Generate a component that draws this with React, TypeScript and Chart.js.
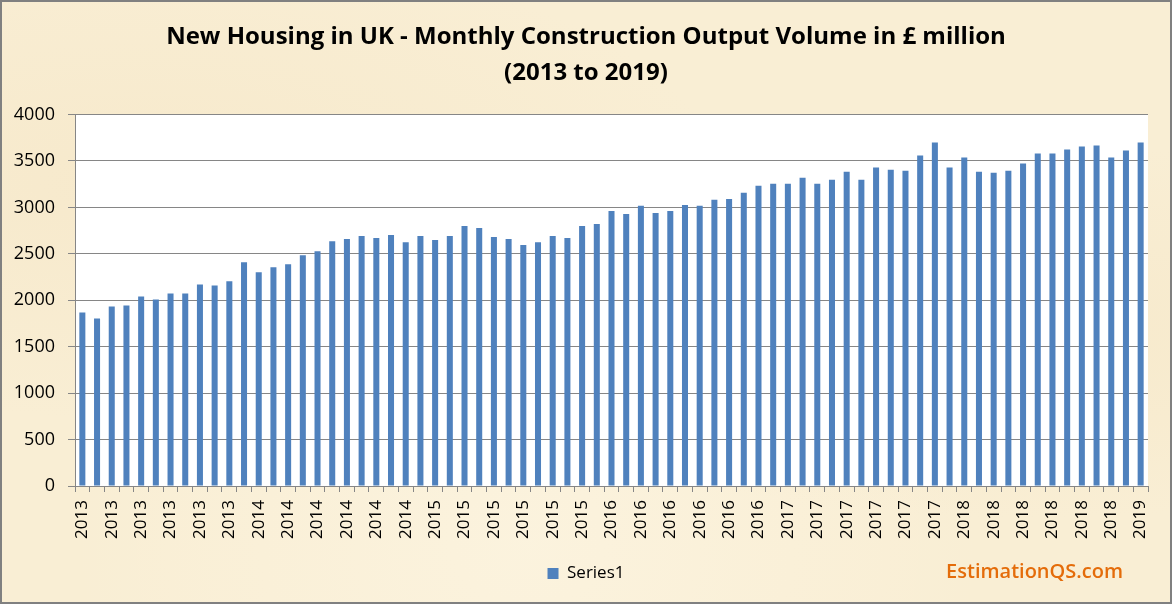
import React, { useEffect, useRef } from "react";
import { Chart, registerables } from "chart.js";

Chart.register(...registerables);

// monthly categories, Jan 2013 .. Jan 2019
const monthYears = [
  "2013", "2013", "2013", "2013", "2013", "2013", "2013", "2013", "2013", "2013", "2013", "2013",
  "2014", "2014", "2014", "2014", "2014", "2014", "2014", "2014", "2014", "2014", "2014", "2014",
  "2015", "2015", "2015", "2015", "2015", "2015", "2015", "2015", "2015", "2015", "2015", "2015",
  "2016", "2016", "2016", "2016", "2016", "2016", "2016", "2016", "2016", "2016", "2016", "2016",
  "2017", "2017", "2017", "2017", "2017", "2017", "2017", "2017", "2017", "2017", "2017", "2017",
  "2018", "2018", "2018", "2018", "2018", "2018", "2018", "2018", "2018", "2018", "2018", "2018",
  "2019",
];

// output volume, £ million
const outputVolume = [
  1868, 1803, 1933, 1944, 2041, 2009, 2074, 2074, 2171, 2160, 2204, 2410,
  2301, 2355, 2388, 2486, 2529, 2637, 2659, 2691, 2670, 2702, 2626, 2691,
  2648, 2691, 2800, 2778, 2681, 2659, 2594, 2626, 2691, 2670, 2800, 2821,
  2962, 2930, 3017, 2941, 2962, 3027, 3017, 3082, 3092, 3158, 3233, 3255,
  3255, 3320, 3255, 3298, 3385, 3298, 3429, 3407, 3396, 3559, 3699, 3429,
  3537, 3385, 3374, 3396, 3472, 3580, 3580, 3624, 3656, 3667, 3537, 3613,
  3699,
];

const yMin = 0;
const yMax = 4000;
const yStep = 500;

const titleLines = [
  "New Housing in UK - Monthly Construction Output Volume in £ million",
  "(2013 to 2019)",
];
const seriesName = "Series1";
const watermark = "EstimationQS.com";

const FONT = "'Open Sans', Lato, sans-serif";
const GRID = "#868686";

const plotBackground = {
  id: "plotBackground",
  beforeDraw(chart: Chart) {
    const { ctx, chartArea } = chart;
    ctx.save();
    ctx.fillStyle = "#ffffff";
    ctx.fillRect(chartArea.left, chartArea.top, chartArea.right - chartArea.left, chartArea.bottom - chartArea.top);
    ctx.restore();
  },
};

const siteMark = {
  id: "siteMark",
  afterDraw(chart: Chart) {
    const { ctx } = chart;
    ctx.save();
    ctx.font = `600 20px ${FONT}`;
    ctx.fillStyle = "#e46c0a";
    ctx.textAlign = "right";
    ctx.textBaseline = "middle";
    ctx.fillText(watermark, chart.width - 47, 570);
    ctx.restore();
  },
};

const HousingChart: React.FC = () => {
  const canvasRef = useRef<HTMLCanvasElement | null>(null);

  useEffect(() => {
    document.body.style.margin = "0";
    if (!canvasRef.current) return;
    const ctx = canvasRef.current.getContext("2d");
    if (!ctx) return;

    const chart = new Chart(ctx, {
      type: "bar",
      data: {
        labels: monthYears,
        datasets: [
          {
            label: seriesName,
            data: outputVolume,
            backgroundColor: "#4f81bd",
            borderWidth: 0,
            barPercentage: 0.41,
            categoryPercentage: 1,
          },
        ],
      },
      options: {
        responsive: false,
        animation: false,
        layout: { padding: { top: 0, right: 0, bottom: 10, left: 0 } },
        scales: {
          x: {
            grid: { drawOnChartArea: false, drawTicks: true, tickLength: 6, color: GRID, offset: true },
            border: { color: GRID },
            ticks: {
              autoSkip: false,
              minRotation: 90,
              maxRotation: 90,
              padding: 8,
              color: "#000",
              font: { family: FONT, size: 17 },
              callback: (_v, i) => (i % 2 === 0 ? monthYears[i] : ""),
            },
            afterFit: (scale) => {
              scale.height = 69;
            },
          },
          y: {
            min: yMin,
            max: yMax,
            ticks: {
              stepSize: yStep,
              padding: 13,
              color: "#000",
              font: { family: FONT, size: 18 },
              callback: (v) => String(v),
            },
            grid: { color: GRID, tickLength: 7 },
            border: { color: GRID },
            afterFit: (scale) => {
              scale.width = 73;
            },
          },
          // empty right-hand margin so title and legend stay centred on the whole frame
          yMargin: {
            position: "right",
            ticks: { display: false },
            grid: { display: false },
            border: { display: false },
            afterFit: (scale) => {
              scale.width = 22;
            },
          },
        },
        plugins: {
          title: {
            display: true,
            text: titleLines,
            color: "#000",
            font: { family: FONT, size: 24, weight: "bold", lineHeight: 1.47 },
            padding: { top: 18, bottom: 24 },
          },
          legend: {
            display: true,
            position: "bottom",
            labels: {
              boxWidth: 11,
              boxHeight: 11,
              padding: 10,
              color: "#000",
              font: { family: FONT, size: 17 },
            },
          },
          tooltip: { enabled: false },
        },
      },
      plugins: [plotBackground, siteMark],
    });

    return () => {
      chart.destroy();
    };
  }, []);

  return (
    <div
      style={{
        width: 1172,
        height: 604,
        boxSizing: "border-box",
        border: "2px solid #808080",
        background:
          "radial-gradient(ellipse at 12% 30%, rgba(242,224,188,0.35), transparent 40%)," +
          "radial-gradient(ellipse at 88% 55%, rgba(243,226,190,0.35), transparent 40%)," +
          "radial-gradient(ellipse at 45% 90%, rgba(253,246,228,0.6), transparent 50%)," +
          "#f9eed4",
      }}
    >
      <canvas ref={canvasRef} width={1168} height={600} style={{ display: "block" }}></canvas>
    </div>
  );
};

export default function App() {
  return <HousingChart />;
}
